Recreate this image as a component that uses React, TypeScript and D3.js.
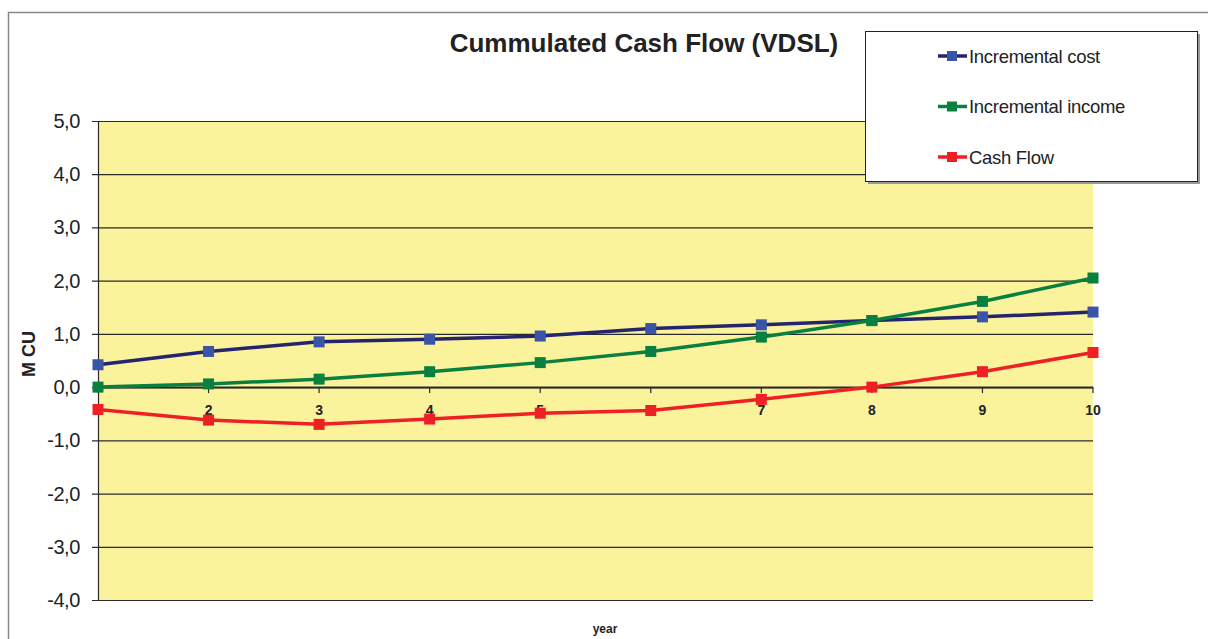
import { useRef, useEffect } from "react";
import * as d3 from "d3";

const years = [1, 2, 3, 4, 5, 6, 7, 8, 9, 10];
const incrementalCost = [0.42, 0.67, 0.85, 0.9, 0.96, 1.1, 1.17, 1.25, 1.32, 1.41];
const incrementalIncome = [0.0, 0.06, 0.15, 0.29, 0.46, 0.67, 0.94, 1.25, 1.61, 2.05];
const cashFlow = [-0.42, -0.62, -0.7, -0.6, -0.49, -0.44, -0.23, 0.0, 0.29, 0.65];
const yTicks = [-4, -3, -2, -1, 0, 1, 2, 3, 4, 5];

const series = [
  { name: "Incremental cost", values: incrementalCost, line: "#25246e", marker: "#3a55a8" },
  { name: "Incremental income", values: incrementalIncome, line: "#0a8040", marker: "#0a8040" },
  { name: "Cash Flow", values: cashFlow, line: "#ee2026", marker: "#ee2026" },
];

const W = 1208;
const H = 639;
const font = "Arial, 'Liberation Sans', sans-serif";

export default function App() {
  const svgRef = useRef<SVGSVGElement>(null);

  useEffect(() => {
    drawChart();
  }, []);

  function drawChart() {
    if (!svgRef.current) return;
    const svg = d3.select(svgRef.current);
    svg.selectAll("*").remove();

    const left = 98, right = 1093, top = 121, bottom = 600;

    const x = d3.scaleLinear().domain([1, 10]).range([left, right]);
    const y = d3.scaleLinear().domain([-4, 5]).range([bottom, top]);

    // outer chart border
    svg
      .append("path")
      .attr("d", `M8.5,${H} V12.5 H${W}`)
      .attr("fill", "none")
      .attr("stroke", "#888")
      .attr("stroke-width", 1.5);

    svg
      .append("rect")
      .attr("x", left)
      .attr("y", top)
      .attr("width", right - left)
      .attr("height", bottom - top)
      .attr("fill", "#fbf39c");

    // gridlines
    svg
      .append("g")
      .selectAll("line")
      .data(yTicks)
      .enter()
      .append("line")
      .attr("x1", left - 6)
      .attr("x2", right)
      .attr("y1", (d) => y(d) + 0.5)
      .attr("y2", (d) => y(d) + 0.5)
      .attr("stroke", "#2a2a2a")
      .attr("stroke-width", 1.2);

    // y axis line
    svg
      .append("line")
      .attr("x1", left + 0.5)
      .attr("x2", left + 0.5)
      .attr("y1", top)
      .attr("y2", bottom)
      .attr("stroke", "#2a2a2a")
      .attr("stroke-width", 1.2);

    // y tick labels
    svg
      .append("g")
      .selectAll("text")
      .data(yTicks)
      .enter()
      .append("text")
      .attr("x", 80)
      .attr("y", (d) => y(d) + 7)
      .attr("text-anchor", "end")
      .attr("font-family", font)
      .attr("font-size", 20)
      .attr("fill", "#222")
      .attr("letter-spacing", -0.4)
      .text((d) => d3.format(".1f")(d).replace(".", ",").replace("−", "-"));

    // x axis at zero
    svg
      .append("line")
      .attr("x1", left)
      .attr("x2", right)
      .attr("y1", y(0) + 0.5)
      .attr("y2", y(0) + 0.5)
      .attr("stroke", "#2a2a2a")
      .attr("stroke-width", 2);

    svg
      .append("g")
      .selectAll("line")
      .data(years)
      .enter()
      .append("line")
      .attr("x1", (d) => x(d))
      .attr("x2", (d) => x(d))
      .attr("y1", y(0))
      .attr("y2", y(0) + 6)
      .attr("stroke", "#2a2a2a")
      .attr("stroke-width", 1.2);

    svg
      .append("g")
      .selectAll("text")
      .data(years)
      .enter()
      .append("text")
      .attr("x", (d) => x(d))
      .attr("y", y(0) + 28)
      .attr("text-anchor", "middle")
      .attr("font-family", font)
      .attr("font-size", 14)
      .attr("font-weight", "bold")
      .attr("fill", "#222")
      .text((d) => d);

    const line = d3
      .line<number>()
      .x((_, i) => x(years[i]))
      .y((d) => y(d));

    series.forEach((s) => {
      svg
        .append("path")
        .datum(s.values)
        .attr("d", line)
        .attr("fill", "none")
        .attr("stroke", s.line)
        .attr("stroke-width", 3.5);
      svg
        .append("g")
        .selectAll("rect")
        .data(s.values)
        .enter()
        .append("rect")
        .attr("x", (_, i) => x(years[i]) - 5.5)
        .attr("y", (d) => y(d) - 5.5)
        .attr("width", 11)
        .attr("height", 11)
        .attr("fill", s.marker);
    });

    // title
    svg
      .append("text")
      .attr("x", 644)
      .attr("y", 52)
      .attr("text-anchor", "middle")
      .attr("font-family", font)
      .attr("font-size", 26)
      .attr("font-weight", "bold")
      .attr("fill", "#222")
      .text("Cummulated Cash Flow (VDSL)");

    // axis titles
    svg
      .append("text")
      .attr("transform", `translate(35, 354) rotate(-90)`)
      .attr("text-anchor", "middle")
      .attr("font-family", font)
      .attr("font-size", 18)
      .attr("font-weight", "bold")
      .attr("fill", "#222")
      .text("M CU");

    svg
      .append("text")
      .attr("x", 605)
      .attr("y", 633)
      .attr("text-anchor", "middle")
      .attr("font-family", font)
      .attr("font-size", 12)
      .attr("font-weight", "bold")
      .attr("fill", "#222")
      .text("year");

    // legend
    const lg = svg.append("g");
    lg.append("rect")
      .attr("x", 868)
      .attr("y", 34)
      .attr("width", 332)
      .attr("height", 150)
      .attr("fill", "#999");
    lg.append("rect")
      .attr("x", 865.5)
      .attr("y", 31.5)
      .attr("width", 332)
      .attr("height", 150)
      .attr("fill", "#fff")
      .attr("stroke", "#222")
      .attr("stroke-width", 1);

    series.forEach((s, i) => {
      const ly = 56 + i * 50.5;
      lg.append("line")
        .attr("x1", 938)
        .attr("x2", 967)
        .attr("y1", ly)
        .attr("y2", ly)
        .attr("stroke", s.line)
        .attr("stroke-width", 3.5);
      lg.append("rect")
        .attr("x", 947)
        .attr("y", ly - 5)
        .attr("width", 10)
        .attr("height", 10)
        .attr("fill", s.marker);
      lg.append("text")
        .attr("x", 969)
        .attr("y", ly + 6.5)
        .attr("font-family", font)
        .attr("font-size", 18.5)
        .attr("fill", "#222")
        .attr("letter-spacing", -0.3)
        .text(s.name);
    });
  }

  return (
    <svg
      ref={svgRef}
      width={W}
      height={H}
      style={{ position: "absolute", left: 0, top: 0, display: "block" }}
    />
  );
}
